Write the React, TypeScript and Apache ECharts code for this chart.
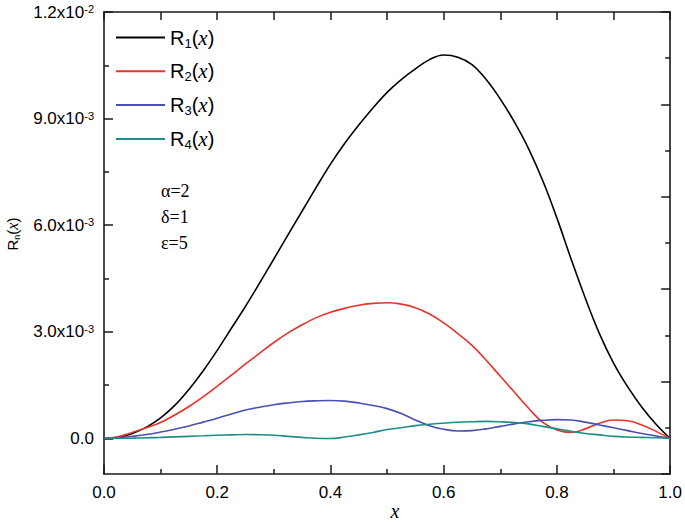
import React, { useEffect, useRef } from 'react';
import * as echarts from 'echarts';

// x positions shared by all curves
const xs = [0, 0.025, 0.05, 0.075, 0.1, 0.125, 0.15, 0.175, 0.2, 0.225, 0.25, 0.275, 0.3, 0.325, 0.35, 0.375,
  0.4, 0.425, 0.45, 0.475, 0.5, 0.525, 0.55, 0.575, 0.6, 0.625, 0.65, 0.675, 0.7, 0.725, 0.75, 0.775,
  0.8, 0.825, 0.85, 0.875, 0.9, 0.925, 0.95, 0.975, 1.0];

// values in units of 1e-3
const r1 = [0, 0.03, 0.14, 0.32, 0.58, 0.93, 1.38, 1.9, 2.48, 3.1, 3.72, 4.38, 5.05, 5.73, 6.4, 7.07,
  7.72, 8.3, 8.82, 9.3, 9.74, 10.1, 10.4, 10.66, 10.79, 10.73, 10.52, 10.1, 9.55, 8.9, 8.15, 7.25,
  6.2, 5.05, 3.95, 2.95, 2.12, 1.45, 0.88, 0.4, 0];
const r2 = [0, 0.05, 0.17, 0.3, 0.45, 0.66, 0.9, 1.17, 1.47, 1.78, 2.1, 2.4, 2.7, 2.97, 3.2, 3.4,
  3.55, 3.66, 3.75, 3.8, 3.82, 3.78, 3.68, 3.5, 3.25, 2.95, 2.62, 2.2, 1.75, 1.3, 0.85, 0.45,
  0.24, 0.17, 0.27, 0.43, 0.52, 0.5, 0.38, 0.2, 0];
const r3 = [0, 0.02, 0.06, 0.11, 0.18, 0.26, 0.35, 0.46, 0.57, 0.69, 0.8, 0.88, 0.95, 1.0, 1.04, 1.06,
  1.07, 1.05, 1.0, 0.93, 0.84, 0.7, 0.52, 0.36, 0.26, 0.21, 0.22, 0.27, 0.34, 0.41, 0.47, 0.51,
  0.53, 0.52, 0.46, 0.38, 0.3, 0.22, 0.14, 0.07, 0];
const r4 = [0, 0.005, 0.01, 0.02, 0.03, 0.045, 0.06, 0.075, 0.09, 0.1, 0.11, 0.105, 0.09, 0.06, 0.03, 0.005,
  0.0, 0.04, 0.1, 0.17, 0.25, 0.3, 0.36, 0.4, 0.43, 0.455, 0.47, 0.48, 0.47, 0.45, 0.41, 0.34,
  0.27, 0.2, 0.14, 0.1, 0.06, 0.04, 0.03, 0.02, 0];

const seriesNames = ['R1', 'R2', 'R3', 'R4'];
const seriesColors = ['#000000', '#e8332a', '#4a4fb5', '#1f8c85'];
const seriesValues = [r1, r2, r3, r4];

// y axis ticks (units of 1e-3)
const yTickValues = [0, 3, 6, 9, 12];
const yTickMantissa = ['0.0', '3.0', '6.0', '9.0', '1.2'];
const yTickExponent = ['', '-3', '-3', '-3', '-2'];
const yMinorTickValues = [1.5, 4.5, 7.5, 10.5];

const params = ['α=2', 'δ=1', 'ε=5'];

const SANS = '"Liberation Sans", Arial, sans-serif';
const SERIF = '"Liberation Serif", "Times New Roman", serif';
const AXIS_COLOR = '#1a1a1a';

export default function App() {
  const ref = useRef<HTMLDivElement>(null);
  useEffect(() => {
    document.body.style.margin = '0';
    if (!ref.current) return;
    const chart = echarts.init(ref.current, null, { renderer: 'svg' });
    const lineStyle = { color: AXIS_COLOR, width: 1.6 };
    const option: any = {
      animation: false,
      backgroundColor: '#ffffff',
      grid: { left: 104, right: 13, top: 12, bottom: 48, containLabel: false },
      xAxis: [
        {
          type: 'value', position: 'bottom', min: 0, max: 1, interval: 0.2,
          axisLine: { show: true, onZero: false, lineStyle },
          axisTick: { show: true, inside: true, length: 9, lineStyle: { color: AXIS_COLOR, width: 1.5 } },
          minorTick: { show: true, splitNumber: 2, length: 5, lineStyle: { color: AXIS_COLOR, width: 1.5 } },
          splitLine: { show: false },
          axisLabel: { fontSize: 17, fontFamily: SANS, color: '#000', margin: 10, formatter: (v: number) => v.toFixed(1) },
        },
        {
          type: 'value', position: 'top', min: 0, max: 1, interval: 0.1,
          axisLine: { show: true, onZero: false, lineStyle },
          axisTick: { show: true, inside: true, length: 8, lineStyle: { color: AXIS_COLOR, width: 1.5 } },
          splitLine: { show: false },
          axisLabel: { show: false },
        },
      ],
      yAxis: [
        {
          type: 'value', position: 'left', min: -1, max: 12,
          axisLine: { show: true, onZero: false, lineStyle },
          axisTick: { show: true, inside: true, length: 9, customValues: yTickValues, lineStyle: { color: AXIS_COLOR, width: 1.5 } },
          splitLine: { show: false },
          axisLabel: {
            customValues: yTickValues,
            margin: 10,
            formatter: (v: number) => {
              const i = yTickValues.findIndex((t) => Math.abs(t - v) < 1e-9);
              if (i < 0) return '';
              if (!yTickExponent[i]) return `{a|${yTickMantissa[i]}}`;
              return `{a|${yTickMantissa[i]}x10}{b|${yTickExponent[i]}}`;
            },
            rich: {
              a: { fontSize: 17, fontFamily: SANS, color: '#000', lineHeight: 17 },
              b: { fontSize: 11, fontFamily: SANS, color: '#000', lineHeight: 11, verticalAlign: 'top' },
            },
          },
        },
        {
          type: 'value', position: 'left', min: -1, max: 12,
          axisLine: { show: false, onZero: false },
          axisTick: { show: true, inside: true, length: 5, customValues: yMinorTickValues, lineStyle: { color: AXIS_COLOR, width: 1.5 } },
          splitLine: { show: false },
          axisLabel: { show: false },
        },
        {
          type: 'value', position: 'right', min: 0, max: 10, interval: 2,
          axisLine: { show: true, onZero: false, lineStyle },
          axisTick: { show: true, inside: true, length: 9, lineStyle: { color: AXIS_COLOR, width: 1.5 } },
          minorTick: { show: true, splitNumber: 2, length: 5, lineStyle: { color: AXIS_COLOR, width: 1.5 } },
          splitLine: { show: false },
          axisLabel: { show: false },
        },
      ],
      legend: {
        orient: 'vertical', left: 116, top: 27, padding: 0, itemWidth: 49, itemHeight: 2, itemGap: 11.3,
        icon: 'rect',
        data: seriesNames,
        formatter: (name: string) => `{r|R}{s|${name.slice(1)}}{p|(}{x|x}{p|)}`,
        textStyle: {
          rich: {
            r: { fontSize: 20, fontFamily: SANS, color: '#000', lineHeight: 24 },
            s: { fontSize: 13, fontFamily: SANS, color: '#000', lineHeight: 13, verticalAlign: 'bottom' },
            p: { fontSize: 20, fontFamily: SANS, color: '#000', lineHeight: 24 },
            x: { fontSize: 21, fontFamily: SERIF, fontStyle: 'italic', color: '#000', lineHeight: 24 },
          },
        },
      },
      series: seriesNames.map((name, k) => ({
        name,
        type: 'line',
        xAxisIndex: 0,
        yAxisIndex: 0,
        smooth: 0.4,
        symbol: 'none',
        showSymbol: false,
        color: seriesColors[k],
        lineStyle: { color: seriesColors[k], width: 1.6 },
        data: xs.map((x, i) => [x, seriesValues[k][i]]),
      })),
      graphic: [
        {
          type: 'text', left: 161, top: 178,
          style: { text: params.join('\n'), font: `18px ${SERIF}`, fill: '#000', lineHeight: 26 },
        },
        {
          type: 'text', x: 395, y: 521,
          style: { text: 'x', font: `italic 20px ${SERIF}`, fill: '#000', align: 'center', verticalAlign: 'bottom' },
        },
        {
          type: 'text', x: 12.5, y: 234, rotation: Math.PI / 2,
          style: {
            text: '{r|R}{s|n}{p|(}{x|x}{p|)}',
            align: 'center', verticalAlign: 'middle',
            rich: {
              r: { fontSize: 15, fontFamily: SANS, fill: '#000', lineHeight: 18 },
              s: { fontSize: 9, fontFamily: SANS, fill: '#000', lineHeight: 9, verticalAlign: 'bottom' },
              p: { fontSize: 15, fontFamily: SANS, fill: '#000', lineHeight: 18 },
              x: { fontSize: 16, fontFamily: SERIF, fontStyle: 'italic', fill: '#000', lineHeight: 18 },
            },
          },
        },
      ],
    };
    chart.setOption(option);
    return () => chart.dispose();
  }, []);
  return <div ref={ref} style={{ width: 685, height: 522 }} />;
}
